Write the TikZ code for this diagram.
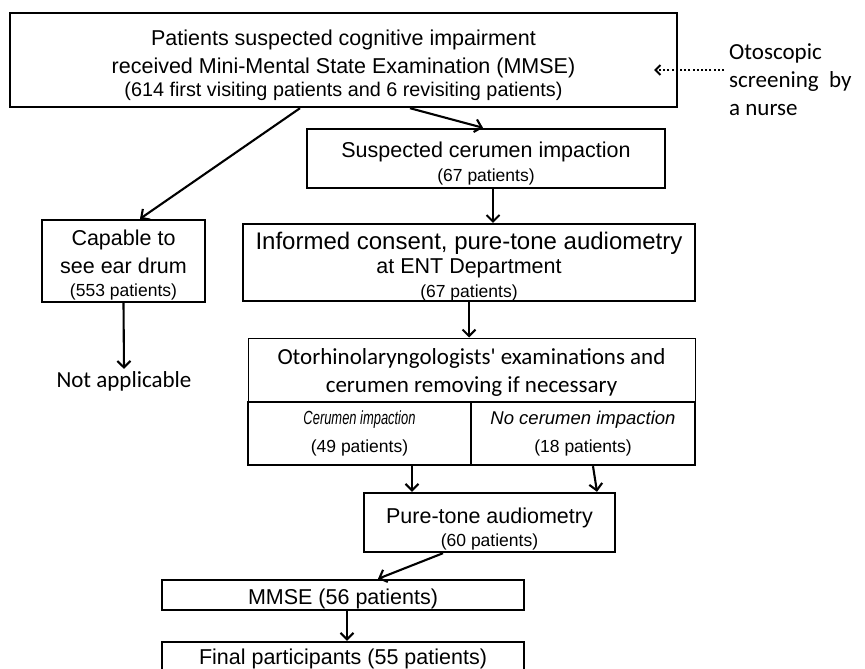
\documentclass[tikz,border=0pt]{standalone}
\usepackage{fontspec}
\setmainfont{Liberation Sans}
\newfontfamily\calfont{Carlito}
\newfontfamily\narrowfont{Liberation Sans}[FakeStretch=0.68]
\usetikzlibrary{calc}
\usetikzlibrary{arrows.meta}

\newcommand{\mainsize}{\fontsize{21.5}{28}\selectfont}
\newcommand{\smallsize}{\fontsize{17.5}{23}\selectfont}
\newcommand{\lift}[1]{\rule{0pt}{#1}}

\begin{document}
\begin{tikzpicture}[x=1pt, y=-1pt,
        box/.style={draw, line width=2.4pt, inner sep=0pt, align=center, font=\mainsize},
        thinbox/.style={draw, line width=1pt, inner sep=0pt, align=center, font=\calfont\fontsize{23}{28}\selectfont},
        plain/.style={inner sep=0pt, font=\calfont\fontsize{23}{28}\selectfont},
        arr/.style={line width=2.1pt, -{Straight Barb[length=6.5pt, width=13pt, line width=2.1pt]}},
        dotarr/.style={line width=2.2pt, dash pattern=on 2pt off 2.2pt, -{Straight Barb[length=5pt, width=10pt, line width=1.8pt]}}]

        \useasboundingbox (0,0) rectangle (865,669);
        \clip (0,0) rectangle (865,669);

        \node[box, minimum width=667pt, minimum height=94pt] (top) at (343.5,60)
            {\lift{26pt}Patients suspected cognitive impairment\\received Mini-Mental State Examination (MMSE)\\[-5pt]
             {\fontsize{19.8}{23}\selectfont (614 first visiting patients and 6 revisiting patients)}};
        \node[plain, anchor=west, align=left] (nurse) at (729,80)
            {Otoscopic\\screening\ \ by\\a nurse};

        \node[box, minimum width=358pt, minimum height=59pt] (susp) at (486,158.5)
            {\lift{26pt}Suspected cerumen impaction\\[-4pt]{\smallsize (67 patients)}};
        \node[box, minimum width=163pt, minimum height=82pt] (capable) at (123.5,261)
            {\lift{24pt}Capable to\\see ear drum\\[-5pt]{\smallsize (553 patients)}};
        \node[plain] (notapp) at (124,381) {Not applicable};
        \node[box, minimum width=452pt, minimum height=75pt] (informed) at (469,262.5)
            {{\fontsize{24}{28}\selectfont\lift{25pt}Informed consent, pure-tone audiometry}\\[-4pt]at ENT Department\\[-4pt]{\smallsize (67 patients)}};

        \node[thinbox, minimum width=447pt, minimum height=64pt] (oto) at (471.5,370)
            {\lift{21pt}Otorhinolaryngologists' examinations and\\cerumen removing if necessary};
        \node[box, minimum width=223pt, minimum height=63pt] (cimp) at (359.5,433.5)
            {{\narrowfont\itshape\fontsize{19}{23}\selectfont Cerumen impaction}\\{\smallsize (49 patients)}};
        \node[box, minimum width=224pt, minimum height=63pt] (ncimp) at (583,433.5)
            {{\itshape\fontsize{18.5}{23}\selectfont No cerumen impaction}\\{\smallsize (18 patients)}};

        \node[box, minimum width=251pt, minimum height=59pt] (pure) at (489.5,522.5)
            {\lift{28pt}Pure-tone audiometry\\[-5pt]{\smallsize (60 patients)}};
        \node[box, minimum width=362pt, minimum height=30pt] (mmse) at (343,595)
            {\lift{24pt}MMSE (56 patients)};
        \node[box, minimum width=362pt, text height=22pt, text depth=40pt, anchor=base] (final) at (343,664)
            {Final participants (55 patients)};

        \draw[dotarr] ([xshift=-5pt, yshift=10pt]nurse.west) -- ([xshift=-24pt, yshift=-10pt]top.east);
        \draw[arr] ([xshift=66.5pt]top.south) -- ([xshift=-3pt]susp.north);
        \draw[arr] ([xshift=-43.5pt]top.south) -- ([xshift=16.5pt]capable.north);
        \draw[arr] ([xshift=7pt]susp.south) -- ([xshift=7pt]susp.south |- informed.north);
        \draw[arr] (informed.south) -- (informed.south |- oto.north);
        \draw[arr] (capable.south) -- ([yshift=2pt]notapp.north);
        \draw[arr] ([xshift=52.5pt]cimp.south) -- ([xshift=52.5pt]cimp.south |- pure.north);
        \draw[arr] ([xshift=10pt]ncimp.south) -- ([xshift=14pt]ncimp.south |- pure.north);
        \draw[arr] ([xshift=-46.5pt]pure.south) -- ([xshift=35pt]mmse.north);
        \draw[arr] ([xshift=4pt]mmse.south) -- ([xshift=4pt]mmse.south |- final.north);
    \end{tikzpicture}
\end{document}
